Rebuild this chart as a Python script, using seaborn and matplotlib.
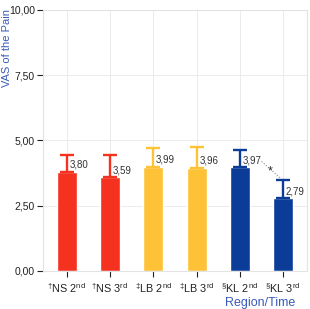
import numpy as np
import pandas as pd
import seaborn as sns
import matplotlib.pyplot as plt
from matplotlib.ticker import FuncFormatter

# data
groups = ["NS 2", "NS 3", "LB 2", "LB 3", "KL 2", "KL 3"]
tick_labels = [r"$^{†}$NS 2$^{nd}$", r"$^{†}$NS 3$^{rd}$",
               r"$^{‡}$LB 2$^{nd}$", r"$^{‡}$LB 3$^{rd}$",
               r"$^{§}$KL 2$^{nd}$", r"$^{§}$KL 3$^{rd}$"]
means = [3.80, 3.59, 3.99, 3.96, 3.97, 2.79]
sds = [0.64, 0.85, 0.72, 0.79, 0.67, 0.70]
colors = ["#F5311F", "#F5311F", "#FDC236", "#FDC236", "#0B3C98", "#0B3C98"]

df = pd.DataFrame({"group": groups, "mean": means})

sns.set_style("whitegrid")
plt.rcParams["font.family"] = ["Liberation Sans", "DejaVu Sans"]
plt.rcParams["mathtext.default"] = "regular"
plt.rcParams["mathtext.fontset"] = "custom"
plt.rcParams["mathtext.rm"] = "Liberation Sans"

fig = plt.figure(figsize=(3.1, 3.09), dpi=100)
ax = fig.add_axes([0.139, 0.123, 0.851, 0.845])

sns.barplot(data=df, x="group", y="mean", hue="group", palette=colors,
            width=0.46, legend=False, ax=ax, errorbar=None, saturation=1)

# one-sided error bars + value labels
for i, (m, s, c) in enumerate(zip(means, sds, colors)):
    ax.errorbar(i, m, yerr=[[0], [s]], color=c, lw=1.7, capsize=4.8,
                capthick=1.7, zorder=3)
    lab = f"{m:.2f}".replace(".", ",")
    ax.text(i + 0.06, m + 0.27, lab, fontsize=7, color="#333333",
            ha="left", va="center", zorder=4)

# significance marker between KL 2nd and 3rd
ax.plot([4.5, 4.93], [4.20, 3.57], ls=(0, (1.5, 1.5)), color="#999999", lw=0.7)
ax.text(4.69, 3.82, "*", fontsize=9, ha="center", va="center", color="#333333")

ax.set_xlim(-0.55, 5.55)
ax.set_ylim(0, 10)
ax.set_yticks([0, 2.5, 5, 7.5, 10])
ax.yaxis.set_major_formatter(FuncFormatter(lambda v, p: f"{v:.2f}".replace(".", ",")))
ax.set_xticks(range(len(groups)))
ax.set_xticklabels(tick_labels)

ax.tick_params(axis="both", labelsize=7.5, colors="#222222", length=4, width=0.8,
               direction="out", pad=2, left=True, bottom=True)
ax.tick_params(axis="x", labelsize=7.8, pad=3)
ax.grid(True, color="#ebebeb", lw=0.7)
for sp in ax.spines.values():
    sp.set_color("#e3e3e3")
    sp.set_linewidth(0.8)

ax.set_ylabel("VAS of the Pain", color="#3A5BB8", fontsize=8)
ax.yaxis.set_label_coords(-0.118, 0.855)
ax.set_xlabel("Region/Time", color="#3A5BB8", fontsize=9)
ax.xaxis.set_label_coords(0.955, -0.098)
ax.xaxis.label.set_ha("right")

fig.savefig("out.png", dpi=100)
